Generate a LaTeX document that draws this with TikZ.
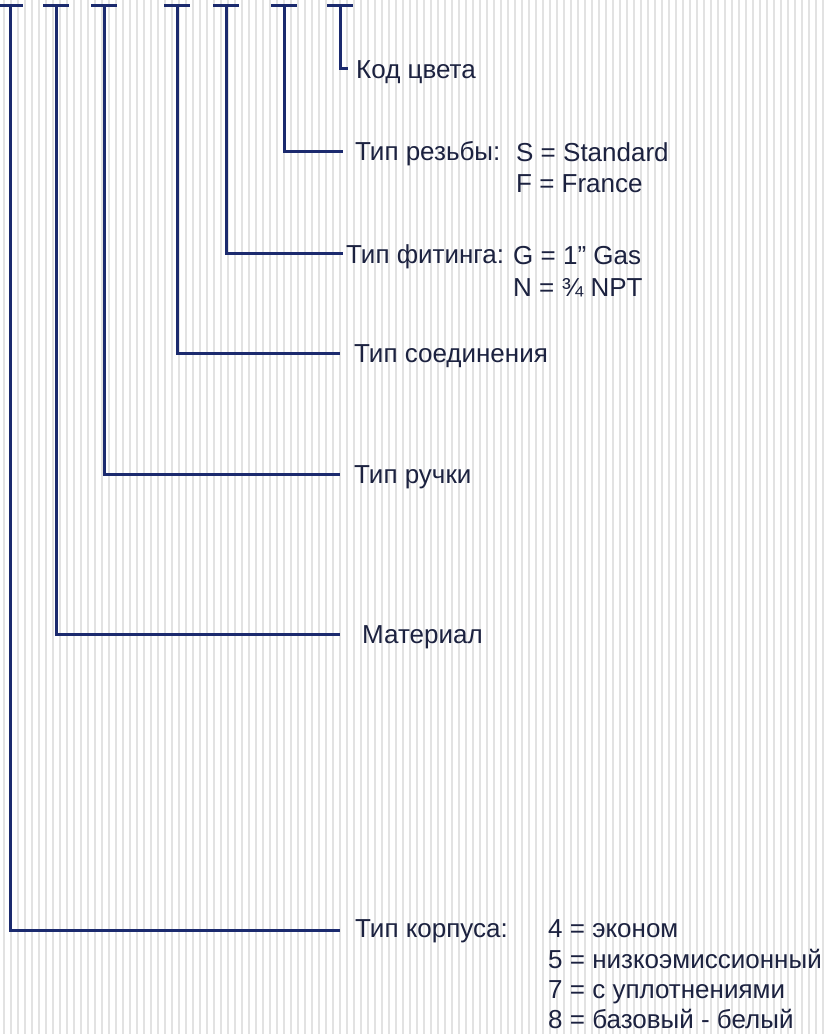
\documentclass[tikz,border=0pt]{standalone}
\usepackage{fontspec}
\setmainfont{Liberation Sans}
\definecolor{navy}{HTML}{1B2A6E}
\definecolor{ink}{HTML}{1C2240}
\definecolor{stripe}{HTML}{E2E2E2}
\begin{document}
\begin{tikzpicture}[x=1pt,y=-1pt,
  ln/.style={draw=navy,line width=3pt},
  lbl/.style={anchor=base west,inner sep=0pt,text=ink,font=\fontsize{26}{31}\selectfont}]
\useasboundingbox (0,0) rectangle (828,1034);
\fill[white] (0,0) rectangle (828,1034);
\foreach \x in {4,11,...,828} \draw[stripe,line width=1.2pt] (\x,0) -- (\x,1034);
% top T bars and stem tops
\foreach \n/\x in {1/10,2/56,3/104,4/177,5/226,6/284,7/340}{
  \coordinate (t\n) at (\x,5);
  \draw[ln] (\x-13,5) -- (\x+13,5);
}
% labels
\node[lbl] (l7) at (356,78) {Код цвета};
\node[lbl] (l6) at (355,160) {Тип резьбы:};
\node[lbl] (l5) at (346,263) {Тип фитинга:};
\node[lbl] (l4) at (354,362) {Тип соединения};
\node[lbl] (l3) at (354,483) {Тип ручки};
\node[lbl] (l2) at (362,643) {Материал};
\node[lbl] (l1) at (355,937) {Тип корпуса:};
% values
\node[lbl] (v6a) at (516,161) {S = Standard};
\node[lbl] (v6b) at (516,192) {F = France};
\node[lbl] (v5a) at (513,264) {G = 1” Gas};
\node[lbl] (v5b) at (513,296) {N = ¾ NPT};
\node[lbl] (v1a) at (548,937) {4 = эконом};
\node[lbl] (v1b) at (548,968) {5 = низкоэмиссионный};
\node[lbl] (v1c) at (548,998) {7 = с уплотнениями};
\node[lbl] (v1d) at (548,1028) {8 = базовый - белый};
% connectors
\coordinate (e7) at (348,68);
\coordinate (e6) at (343,151);
\coordinate (e5) at (343,253);
\coordinate (e4) at (340,353);
\coordinate (e3) at (340,474);
\coordinate (e2) at (340,634);
\coordinate (e1) at (340,930);
\foreach \n in {1,...,7} \draw[ln] (t\n) |- (e\n);
\end{tikzpicture}
\end{document}
